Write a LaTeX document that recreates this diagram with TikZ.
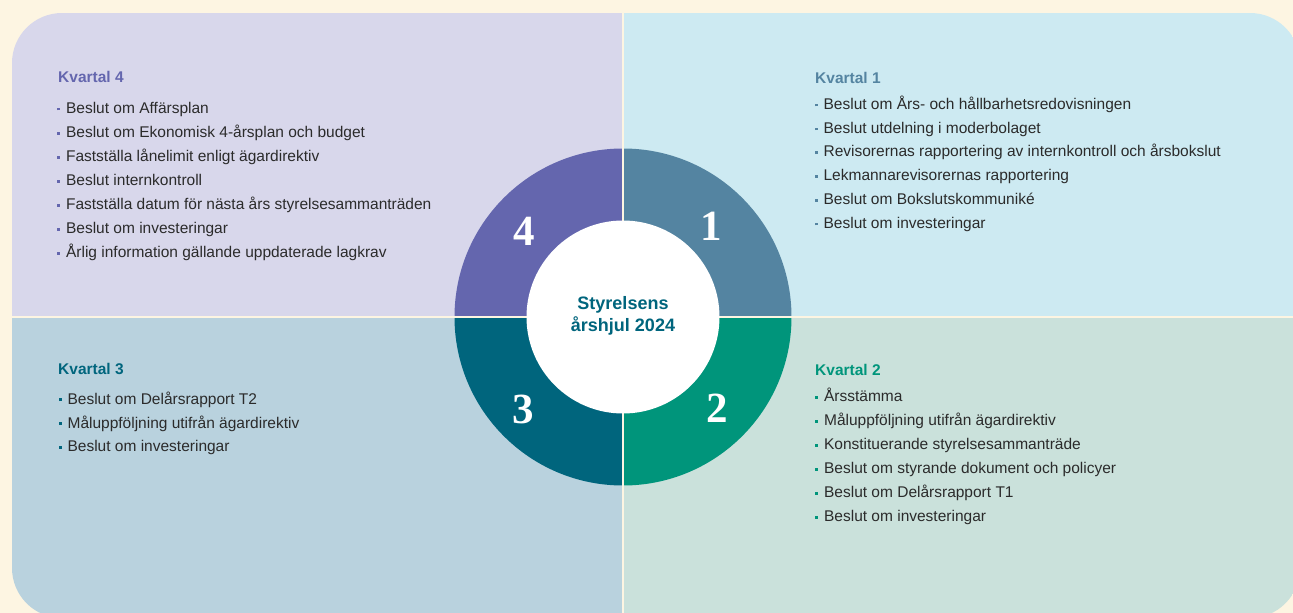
\documentclass[tikz,border=0pt]{standalone}
\usepackage{fontspec}
\setmainfont{Liberation Sans}
\newfontfamily\numfont{Liberation Serif}
\definecolor{cream}{HTML}{FDF5E2}
\definecolor{bgfour}{HTML}{D8D7EB}
\definecolor{bgone}{HTML}{CDEAF2}
\definecolor{bgthree}{HTML}{B9D2DE}
\definecolor{bgtwo}{HTML}{CAE1DB}
\definecolor{cfour}{HTML}{6466AE}
\definecolor{cone}{HTML}{5484A1}
\definecolor{cthree}{HTML}{00657D}
\definecolor{ctwo}{HTML}{00957B}
\definecolor{txt}{HTML}{2B2B2B}
\newcommand\bul[1]{\hspace*{1.2pt}\textcolor{#1}{\rule[2.9pt]{2.7pt}{2.7pt}}\hspace*{6pt}}
\tikzset{
  title/.style={anchor=base west, inner sep=0pt, font=\fontsize{15.5}{18}\selectfont\bfseries},
  item/.style={anchor=base west, inner sep=0pt, text=txt, font=\fontsize{15.5}{18}\selectfont},
  num/.style={anchor=base, inner sep=0pt, text=white, font=\fontsize{43}{45}\selectfont\numfont\bfseries},
  hubtext/.style={anchor=base, inner sep=0pt, text=cthree, font=\fontsize{18}{20}\selectfont\bfseries},
  sep/.style={draw=cream, line width=2.5pt}
}
\begin{document}
\begin{tikzpicture}[x=1pt,y=-1pt]
\useasboundingbox (0,0) rectangle (1293,613);
\fill[cream] (0,0) rectangle (1293,613);
\begin{scope}
\clip[rounded corners=50pt] (12,13) rectangle (1300,618);
\fill[bgfour] (12,13) rectangle (623,317);
\fill[bgone] (623,13) rectangle (1300,317);
\fill[bgthree] (12,317) rectangle (623,618);
\fill[bgtwo] (623,317) rectangle (1300,618);
\end{scope}
\coordinate (c) at (623,317);
\fill[cone] (c) -- ++(0,-168.5) arc[start angle=-90,end angle=0,radius=168.5] -- cycle;
\fill[ctwo] (c) -- ++(168.5,0) arc[start angle=0,end angle=90,radius=168.5] -- cycle;
\fill[cthree] (c) -- ++(0,168.5) arc[start angle=90,end angle=180,radius=168.5] -- cycle;
\fill[cfour] (c) -- ++(-168.5,0) arc[start angle=180,end angle=270,radius=168.5] -- cycle;
\draw[sep] (623,13) -- (623,618);
\draw[sep] (12,317) -- (1300,317);
\node[circle, fill=white, minimum size=193pt, inner sep=0pt] (hub) at (c) {};
\node[hubtext] (hubA) at (623,309) {Styrelsens};
\node[hubtext] (hubB) at (623,331) {årshjul 2024};
\node[num] (n4) at (524,245) {4};
\node[num] (n1) at (711.5,240) {1};
\node[num] (n3) at (523,423) {3};
\node[num] (n2) at (717,422) {2};
% Kvartal 4
\node[title, text=cfour] (k4) at (58,82.7) {Kvartal 4};
\node[item] (k4a) at (56,113.3) {\bul{cfour}Beslut om Affärsplan};
\node[item] (k4b) at (56,137.4) {\bul{cfour}Beslut om Ekonomisk 4-årsplan och budget};
\node[item] (k4c) at (56,161.4) {\bul{cfour}Fastställa lånelimit enligt ägardirektiv};
\node[item] (k4d) at (56,185.5) {\bul{cfour}Beslut internkontroll};
\node[item] (k4e) at (56,209.6) {\bul{cfour}Fastställa datum för nästa års styrelsesammanträden};
\node[item] (k4f) at (56,233.6) {\bul{cfour}Beslut om investeringar};
\node[item] (k4g) at (56,257.7) {\bul{cfour}Årlig information gällande uppdaterade lagkrav};
% Kvartal 1
\node[title, text=cone] (k1) at (815,83.3) {Kvartal 1};
\node[item] (k1a) at (813.5,109.3) {\bul{cone}Beslut om Års- och hållbarhetsredovisningen};
\node[item] (k1b) at (813.5,133.1) {\bul{cone}Beslut utdelning i moderbolaget};
\node[item] (k1c) at (813.5,156.9) {\bul{cone}Revisorernas rapportering av internkontroll och årsbokslut};
\node[item] (k1d) at (813.5,180.7) {\bul{cone}Lekmannarevisorernas rapportering};
\node[item] (k1e) at (813.5,204.5) {\bul{cone}Beslut om Bokslutskommuniké};
\node[item] (k1f) at (813.5,228.3) {\bul{cone}Beslut om investeringar};
% Kvartal 2
\node[title, text=ctwo] (k2) at (815,375.7) {Kvartal 2};
\node[item] (k2a) at (814,401.7) {\bul{ctwo}Årsstämma};
\node[item] (k2b) at (814,425.7) {\bul{ctwo}Måluppföljning utifrån ägardirektiv};
\node[item] (k2c) at (814,449.7) {\bul{ctwo}Konstituerande styrelsesammanträde};
\node[item] (k2d) at (814,473.7) {\bul{ctwo}Beslut om styrande dokument och policyer};
\node[item] (k2e) at (814,497.7) {\bul{ctwo}Beslut om Delårsrapport T1};
\node[item] (k2f) at (814,521.7) {\bul{ctwo}Beslut om investeringar};
% Kvartal 3
\node[title, text=cthree] (k3) at (58,374) {Kvartal 3};
\node[item] (k3a) at (57.5,404) {\bul{cthree}Beslut om Delårsrapport T2};
\node[item] (k3b) at (57.5,428) {\bul{cthree}Måluppföljning utifrån ägardirektiv};
\node[item] (k3c) at (57.5,451.7) {\bul{cthree}Beslut om investeringar};
\end{tikzpicture}
\end{document}
